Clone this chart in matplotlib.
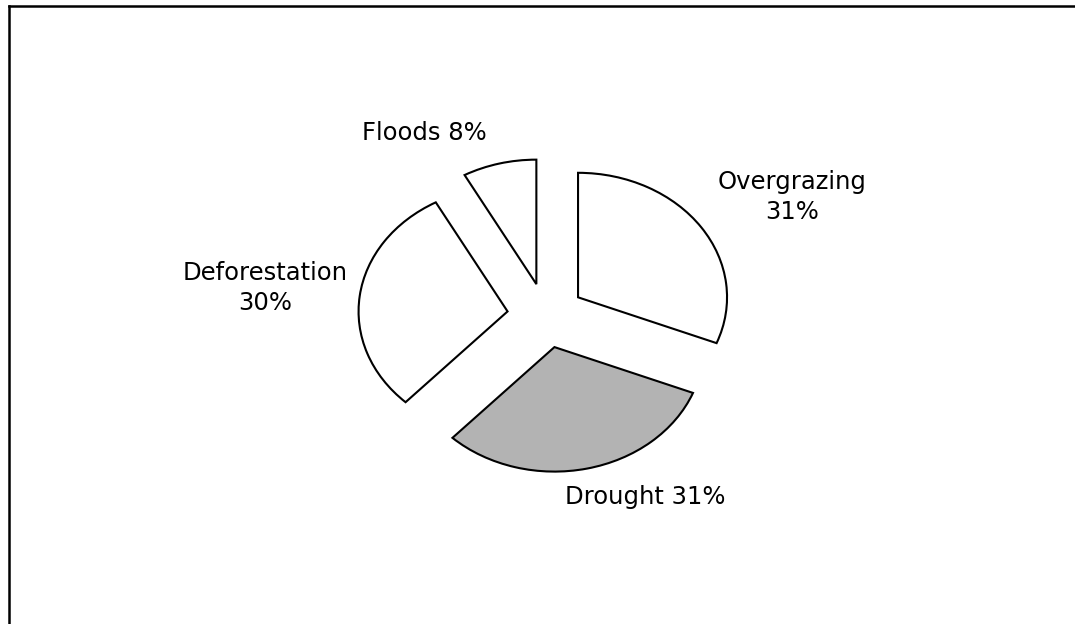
import matplotlib
matplotlib.use("Agg")
import matplotlib.pyplot as plt
from matplotlib.lines import Line2D

# causes of land degradation (percent)
causes = ["Overgrazing", "Drought", "Deforestation", "Floods"]
shares = [31, 31, 30, 8]
labels = ["Overgrazing\n31%", "Drought 31%", "Deforestation\n30%", "Floods 8%"]
fills = ["white", "#b3b3b3", "white", "white"]

# label anchor points in pie units
label_xy = [(1.651, 0.952), (0.664, -1.458), (-1.886, 0.221), (-0.819, 1.462)]

W, H = 1075, 624
fig = plt.figure(figsize=(W / 100, H / 100), dpi=100)

# pie centre and radii in pixels (slightly squashed vertically)
cx, cy = 546, 315.5
rx, ry = 149, 124.5
span = 2.2
ax = fig.add_axes([(cx - span * rx) / W, (H - cy - span * ry) / H,
                   2 * span * rx / W, 2 * span * ry / H])

wedges, _ = ax.pie(shares, startangle=90, counterclock=False,
                   explode=[0.26] * len(shares), colors=fills,
                   wedgeprops=dict(edgecolor="black", linewidth=1.5))
ax.set_aspect("auto")
ax.set_xlim(-span, span)
ax.set_ylim(-span, span)
ax.axis("off")

for txt, (x, y) in zip(labels, label_xy):
    ax.text(x, y, txt, ha="center", va="center", fontsize=17.5,
            family="DejaVu Sans", linespacing=1.35)

# outer frame (left and top edges only)
fig.add_artist(Line2D([8.5 / W, 8.5 / W], [0, 1 - 5.5 / H], transform=fig.transFigure,
                      color="black", linewidth=1.8))
fig.add_artist(Line2D([8.5 / W, 1], [1 - 5.5 / H, 1 - 5.5 / H], transform=fig.transFigure,
                      color="black", linewidth=1.8))

fig.savefig("out.png", dpi=100)
